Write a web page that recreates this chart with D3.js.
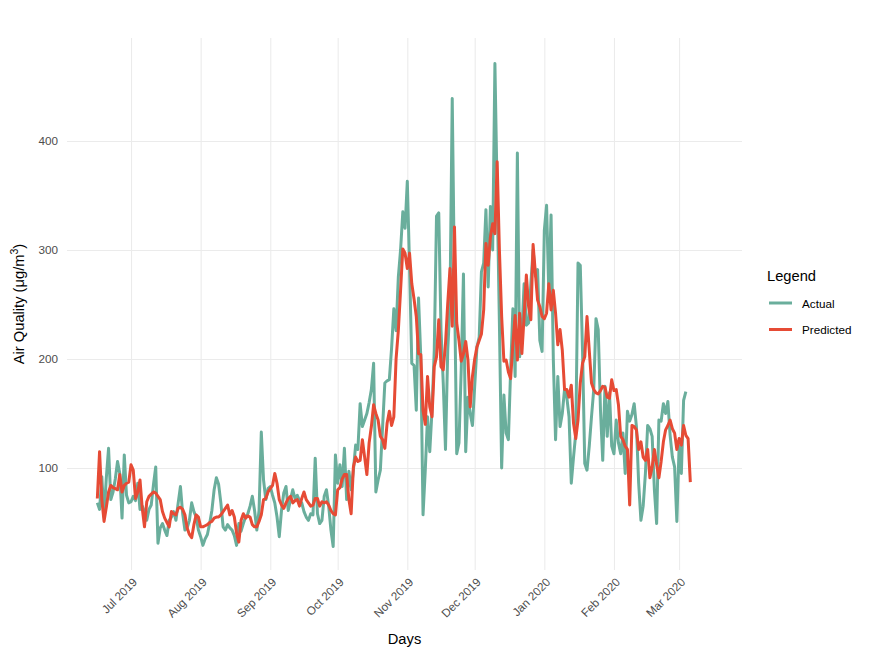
<!DOCTYPE html>
<html><head><meta charset="utf-8">
<script src="https://cdn.jsdelivr.net/npm/d3@7"></script>
<style>
body{margin:0;background:#fff}
text{font-family:"Liberation Sans",Arial,Helvetica,sans-serif}
</style>
</head><body>
<svg id="chart" width="875" height="656"></svg>
<script>
// ---- data (daily, starting 2019-06-16) ----
const startDate = "2019-06-16";
const actual = [
  68, 62, 92, 55, 91, 118, 71, 78, 90, 106,
  95, 54, 112, 75, 68, 69, 74, 70, 86, 62,
  65, 60, 52, 62, 66, 85, 101, 31, 45, 49,
  43, 38, 52, 55, 60, 52, 68, 83, 58, 43,
  45, 52, 68, 60, 55, 43, 37, 29, 35, 39,
  49, 61, 80, 91, 85, 68, 46, 43, 48, 45,
  43, 38, 29, 49, 42, 49, 55, 58, 65, 74,
  61, 43, 61, 133, 89, 71, 81, 83, 75, 68,
  55, 37, 61, 77, 83, 61, 71, 80, 72, 75,
  70, 68, 60, 55, 52, 58, 57, 109, 58, 49,
  52, 74, 80, 65, 43, 28, 112, 86, 103, 83,
  118, 71, 97, 80, 98, 121, 117, 159, 138, 144,
  150, 160, 172, 196, 78, 89, 98, 138, 178, 180,
  181, 210, 246, 226, 275, 300, 335, 320, 363, 285,
  196, 194, 153, 256, 202, 57, 98, 147, 115, 153,
  208, 331, 334, 227, 178, 117, 208, 251, 439, 269,
  113, 123, 190, 278, 115, 165, 150, 139, 175, 211,
  220, 280, 288, 337, 266, 340, 300, 471, 352, 233,
  100, 167, 132, 126, 190, 246, 184, 389, 202, 224,
  269, 231, 233, 269, 300, 276, 282, 217, 207, 318,
  341, 260, 332, 200, 126, 184, 138, 150, 172, 165,
  147, 86, 110, 132, 288, 286, 208, 104, 98, 120,
  147, 172, 237, 227, 153, 107, 175, 129, 169, 120,
  113, 144, 123, 113, 132, 95, 152, 143, 149, 159,
  138, 86, 52, 65, 95, 139, 136, 129, 80, 49,
  144, 143, 159, 150, 161, 130, 110, 101, 51, 120,
  95, 162, 170
];
const predicted = [
  72, 115, 71, 51, 64, 78, 84, 82, 81, 80,
  94, 78, 84, 86, 87, 103, 98, 72, 78, 89,
  63, 46, 69, 74, 76, 78, 77, 74, 71, 60,
  54, 50, 46, 60, 58, 57, 63, 64, 62, 57,
  45, 39, 36, 48, 57, 55, 46, 46, 47, 48,
  50, 51, 54, 55, 55, 57, 60, 63, 66, 57,
  61, 55, 40, 32, 52, 58, 54, 56, 55, 48,
  46, 46, 51, 57, 71, 72, 78, 81, 84, 95,
  86, 71, 66, 63, 68, 72, 74, 68, 70, 71,
  65, 72, 78, 71, 68, 65, 66, 72, 72, 65,
  69, 68, 69, 66, 61, 58, 57, 80, 82, 90,
  94, 94, 71, 58, 101, 110, 106, 107, 126, 110,
  94, 123, 138, 158, 150, 144, 129, 126, 118, 141,
  152, 139, 147, 200, 226, 263, 301, 297, 283, 297,
  269, 255, 239, 205, 204, 153, 140, 184, 156, 147,
  193, 202, 236, 193, 190, 214, 251, 283, 230, 321,
  233, 217, 198, 205, 216, 199, 156, 184, 200, 211,
  217, 223, 245, 306, 286, 312, 324, 315, 381, 300,
  239, 198, 199, 188, 182, 214, 240, 199, 242, 205,
  239, 277, 248, 236, 305, 279, 254, 248, 239, 237,
  242, 269, 245, 263, 242, 213, 227, 208, 172, 172,
  165, 176, 141, 127, 144, 178, 196, 202, 239, 208,
  178, 172, 169, 168, 171, 175, 174, 165, 164, 181,
  171, 172, 158, 129, 126, 120, 117, 66, 139, 138,
  135, 117, 124, 110, 107, 117, 91, 101, 117, 103,
  91, 106, 124, 135, 139, 144, 136, 132, 117, 127,
  121, 139, 130, 127, 87
];
const seriesNames = ["Actual", "Predicted"];
const yTickValues = [100, 200, 300, 400];
const xTickDates = ["2019-07-01","2019-08-01","2019-09-01","2019-10-01","2019-11-01",
                    "2019-12-01","2020-01-01","2020-02-01","2020-03-01"];
const xTickLabels = ["Jul 2019","Aug 2019","Sep 2019","Oct 2019","Nov 2019",
                     "Dec 2019","Jan 2020","Feb 2020","Mar 2020"];
const xDomain = ["2019-06-02T12:00:00Z", "2020-03-29T00:00:00Z"];
const yDomain = [6.4, 494.5];

// ---- style ----
const colors = {Actual: "#6aae9c", Predicted: "#e64b35"};
const panel = {left: 67, right: 742, top: 38, bottom: 570};

const svg = d3.select("#chart");
const DAY = 86400000;
const t0 = Date.parse(startDate + "T00:00:00Z");
const toSeries = arr => arr.map((v, i) => ({date: new Date(t0 + i * DAY), value: v}));
const series = [
  {name: seriesNames[0], data: toSeries(actual)},
  {name: seriesNames[1], data: toSeries(predicted)}
];

const x = d3.scaleUtc().domain(xDomain.map(d => new Date(d))).range([panel.left, panel.right]);
const y = d3.scaleLinear().domain(yDomain).range([panel.bottom, panel.top]);

// gridlines + y tick labels
const gy = svg.append("g").attr("transform", `translate(${panel.left},0)`)
  .call(d3.axisLeft(y).tickValues(yTickValues).tickSize(-(panel.right - panel.left)).tickPadding(9));
gy.select(".domain").remove();
gy.selectAll(".tick line").attr("stroke", "#ebebeb").attr("stroke-width", 1.07);
gy.selectAll(".tick text").attr("fill", "#4d4d4d").style("font-size", "11.7px")
  .style("font-family", '"Liberation Sans",Arial,sans-serif');

const xDates = xTickDates.map(d => new Date(d + "T00:00:00Z"));
const gx = svg.append("g").attr("transform", `translate(0,${panel.bottom})`)
  .call(d3.axisBottom(x).tickValues(xDates).tickSize(-(panel.bottom - panel.top)).tickFormat(""));
gx.select(".domain").remove();
gx.selectAll(".tick line").attr("stroke", "#ebebeb").attr("stroke-width", 1.07);

// x tick labels rotated 45
svg.append("g").selectAll("text").data(xDates).join("text")
  .attr("transform", d => `translate(${x(d) + 1},${panel.bottom + 7}) rotate(-45)`)
  .attr("text-anchor", "end")
  .attr("dy", "0.71em")
  .attr("fill", "#4d4d4d")
  .style("font-size", "11.7px")
  .text((d, i) => xTickLabels[i]);

// lines
const line = d3.line().x(d => x(d.date)).y(d => y(d.value));
svg.append("g").selectAll("path").data(series).join("path")
  .attr("d", d => line(d.data))
  .attr("fill", "none")
  .attr("stroke", d => colors[d.name])
  .attr("stroke-width", 3)
  .attr("stroke-linejoin", "round")
  .attr("stroke-linecap", "butt");

// axis titles
svg.append("text").attr("x", (panel.left + panel.right) / 2).attr("y", 644)
  .attr("text-anchor", "middle").attr("fill", "#000").style("font-size", "14.7px").text("Days");
const yt = svg.append("text").attr("transform", `translate(24,${(panel.top + panel.bottom) / 2}) rotate(-90)`)
  .attr("text-anchor", "middle").attr("fill", "#000").style("font-size", "14.7px");
yt.append("tspan").text("Air Quality (μg/m");
yt.append("tspan").attr("baseline-shift", "super").style("font-size", "10.5px").text("3");
yt.append("tspan").text(")");

// legend
const lg = svg.append("g").attr("transform", "translate(767,0)");
lg.append("text").attr("x", 0).attr("y", 281).attr("fill", "#000").style("font-size", "14.7px").text("Legend");
const items = lg.selectAll("g.item").data(seriesNames).join("g").attr("class", "item")
  .attr("transform", (d, i) => `translate(0,${303 + i * 26.5})`);
items.append("line").attr("x1", 2).attr("x2", 25).attr("y1", 0).attr("y2", 0)
  .attr("stroke", d => colors[d]).attr("stroke-width", 3);
items.append("text").attr("x", 35).attr("y", 4.5).attr("fill", "#000").style("font-size", "11.7px").text(d => d);
</script>
</body></html>
